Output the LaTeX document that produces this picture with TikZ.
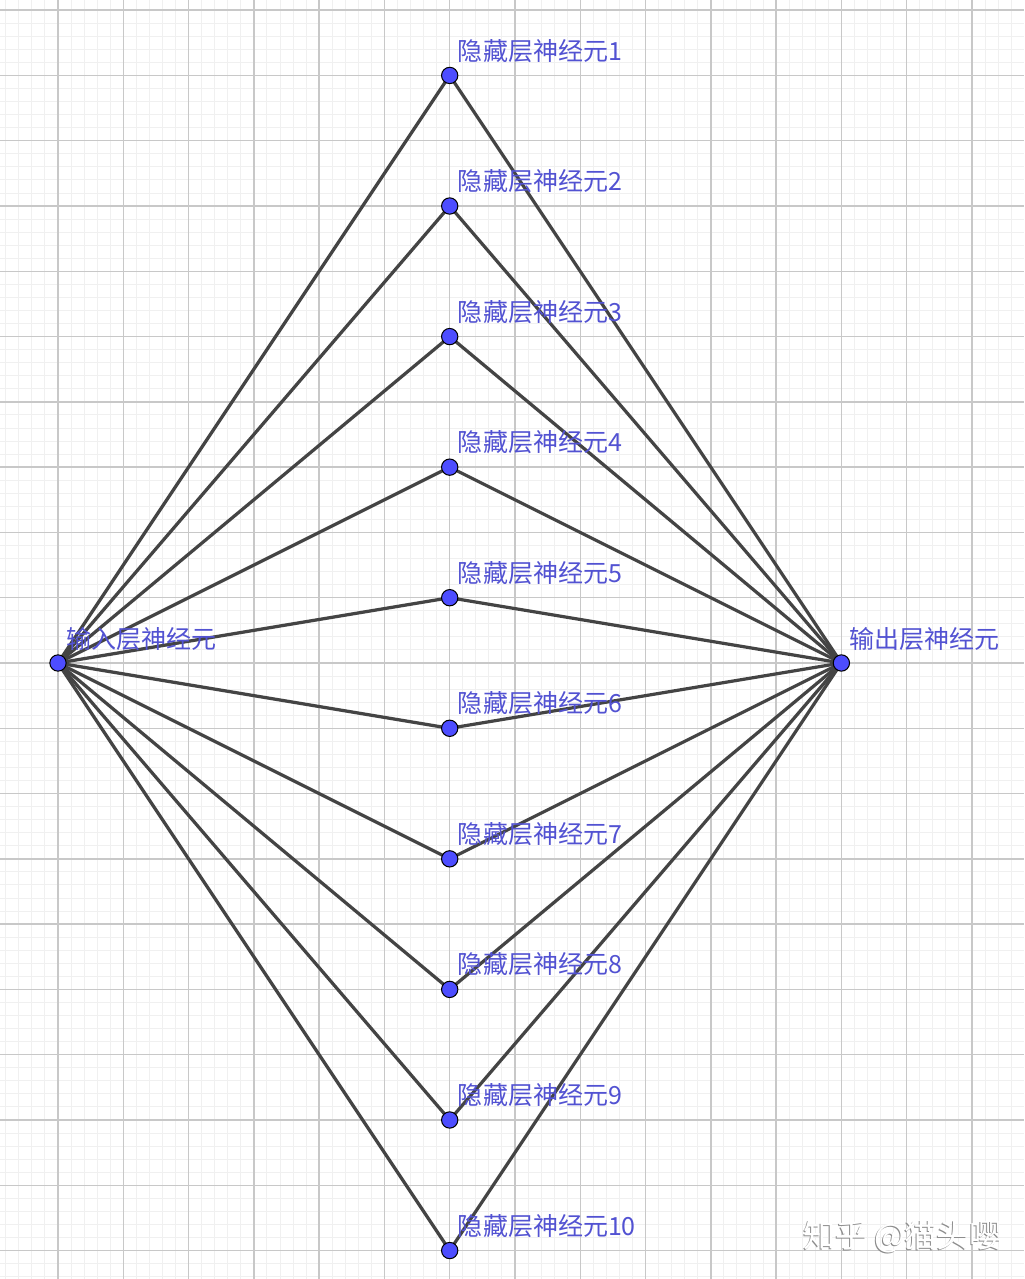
\documentclass[tikz,border=0pt]{standalone}
\usepackage{fontspec}
\newfontfamily\cjk{Noto Sans CJK SC}
\usetikzlibrary{backgrounds}
\definecolor{minorgrid}{HTML}{F0F0F0}
\definecolor{majorgrid}{HTML}{C8C8C8}
\definecolor{edgecol}{HTML}{444444}
\definecolor{ptfill}{HTML}{4D4DFF}
\definecolor{lblcol}{HTML}{5252D2}
\tikzset{
  pt/.style={circle, draw=black, line width=0.45pt, fill=ptfill, minimum size=0.25cm, inner sep=0pt},
  lbl/.style={anchor=west, inner sep=0pt, text=lblcol, font=\cjk\fontsize{10.9pt}{12pt}\selectfont},
  edge/.style={draw=edgecol, line width=1.4pt},
}
\begin{document}
\begin{tikzpicture}[x=1cm,y=1cm]
\useasboundingbox (-0.8885,-9.436) rectangle (14.798,10.156);
% nodes
\node[pt] (in) at (0,0) {};
\node[pt] (out) at (12,0) {};
\foreach \i in {1,...,10} {
  \node[pt] (h\i) at (6,{11-2*\i}) {};
}
% labels
\node[lbl] (lin) at (0.12,0.36) {输入层神经元};
\node[lbl] (lout) at (12.12,0.36) {输出层神经元};
\foreach \i in {1,...,10} {
  \node[lbl] (l\i) at (6.12,{11-2*\i+0.38}) {隐藏层神经元\i};
}
% watermark
\node[inner sep=0pt, text=black!45, font=\cjk\fontsize{14pt}{16pt}\selectfont] (wms) at (12.915,-8.805) {知乎 @猫头嘤};
\node[inner sep=0pt, text=white, font=\cjk\fontsize{14pt}{16pt}\selectfont] (wm) at (12.93,-8.79) {知乎 @猫头嘤};
\begin{scope}[on background layer]
  \fill[white] (-0.8885,-9.436) rectangle (14.798,10.156);
  \draw[minorgrid, line width=0.4pt, step=0.2] (-0.8885,-9.436) grid (14.798,10.156);
  \draw[majorgrid, line width=0.65pt, step=1] (-0.8885,-9.436) grid (14.798,10.156);
  \foreach \i in {1,...,10} {
    \draw[edge] (in.center) -- (h\i.center);
    \draw[edge] (h\i.center) -- (out.center);
  }
\end{scope}
\end{tikzpicture}
\end{document}
